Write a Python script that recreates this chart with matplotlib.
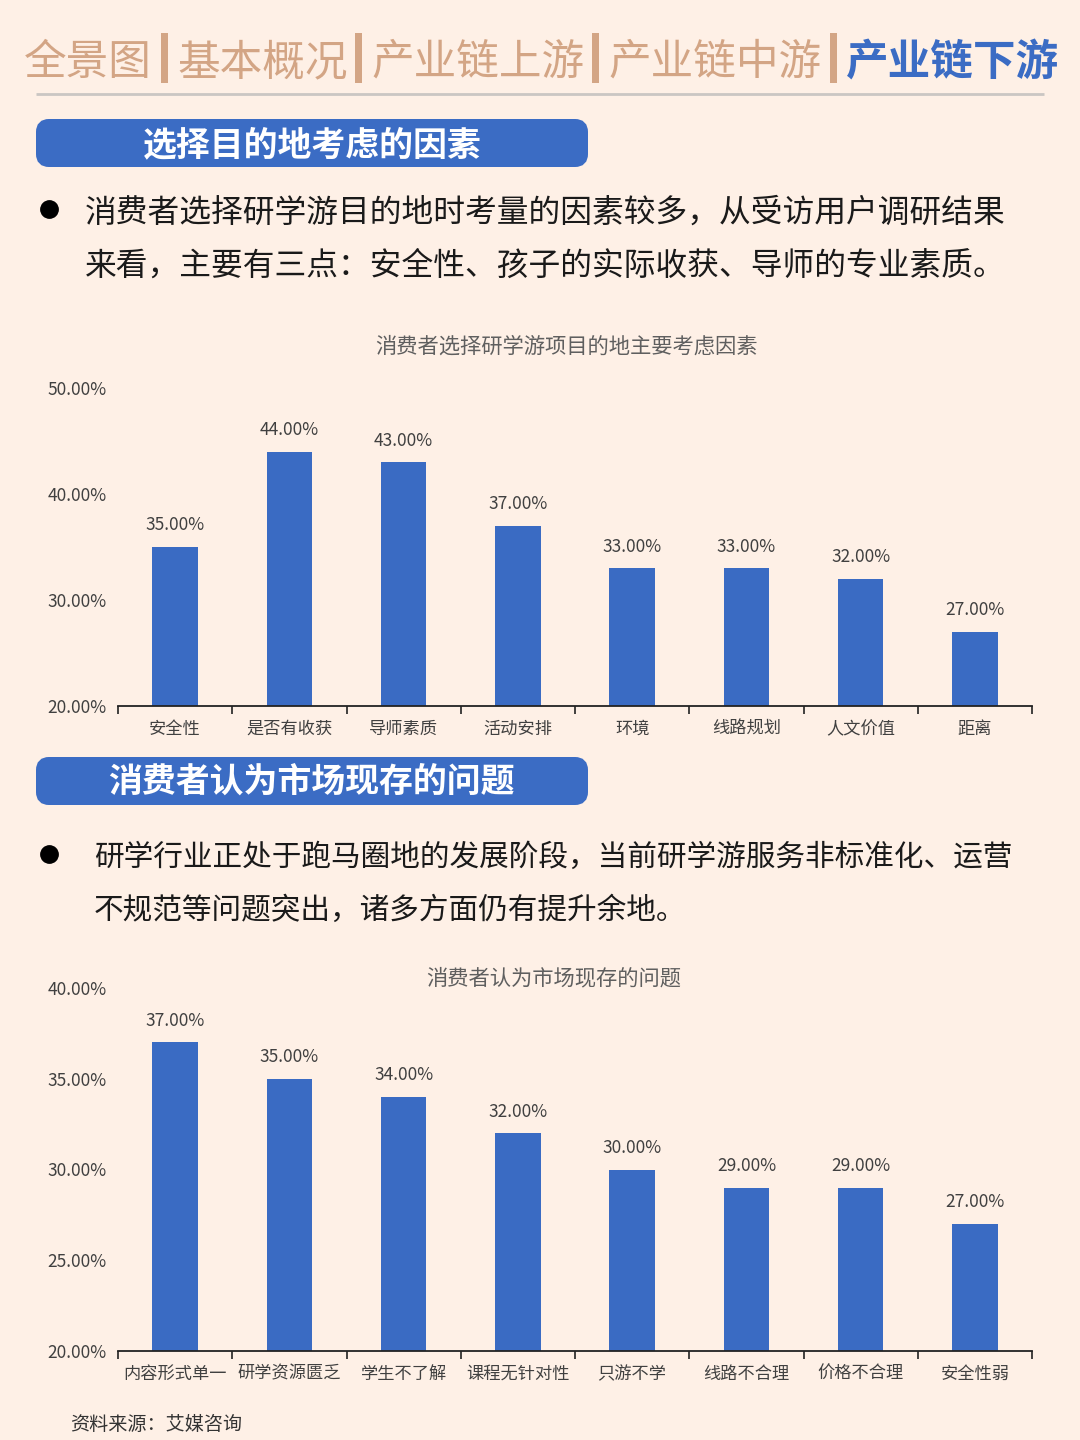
#!/usr/bin/env python3
import matplotlib; matplotlib.use("Agg")
import matplotlib.pyplot as plt
from matplotlib.patches import FancyBboxPatch, Rectangle

plt.rcParams["font.family"]=["Noto Sans CJK SC","DejaVu Sans"]

W,H=1080,1440
BG="#fef0e6"; BLUE="#3b6cc4"; TAN="#d3a585"; GREY="#404040"; BAR="#3a6bc3"

NAV=["全景图","基本概况","产业链上游","产业链中游","产业链下游"]
NAV_X=[24,177,371,608,846]
NAV_SEP=[164,358,595,833]

HEAD1="选择目的地考虑的因素"
HEAD2="消费者认为市场现存的问题"
PARA1=["消费者选择研学游目的地时考量的因素较多，从受访用户调研结果","来看，主要有三点：安全性、孩子的实际收获、导师的专业素质。"]
PARA2=["研学行业正处于跑马圈地的发展阶段，当前研学游服务非标准化、运营","不规范等问题突出，诸多方面仍有提升余地。"]

TITLE1="消费者选择研学游项目的地主要考虑因素"
CATS1=["安全性","是否有收获","导师素质","活动安排","环境","线路规划","人文价值","距离"]
VALS1=[35,44,43,37,33,33,32,27]
TICKS1=[20,30,40,50]

TITLE2="消费者认为市场现存的问题"
CATS2=["内容形式单一","研学资源匮乏","学生不了解","课程无针对性","只游不学","线路不合理","价格不合理","安全性弱"]
VALS2=[37,35,34,32,30,29,29,27]
TICKS2=[20,25,30,35,40]

SOURCE="资料来源：艾媒咨询"

fig=plt.figure(figsize=(W/100,H/100),dpi=100,facecolor=BG)
bg=fig.add_axes([0,0,1,1]); bg.set_xlim(0,W); bg.set_ylim(H,0); bg.axis("off")

# top nav
for i,(s,x) in enumerate(zip(NAV,NAV_X)):
    last=i==len(NAV)-1
    bg.text(x,63,s,fontsize=30.7,color=BLUE if last else TAN,va="center",ha="left",
            fontweight="bold" if last else "light")
for x in NAV_SEP:
    bg.add_patch(Rectangle((x-3,33),7,50,color=TAN,lw=0))
bg.plot([36,1044],[93.5,93.5],color="#cac6c3",lw=2,solid_capstyle="butt")

def header(y,txt,cx,ty,fs):
    bg.add_patch(FancyBboxPatch((41,y+5),542,38,boxstyle="round,pad=0,rounding_size=8",
                                mutation_aspect=1,fc=BLUE,ec=BLUE,lw=10*0.72))
    bg.text(cx,ty,txt,fontsize=fs,color="white",fontweight="bold",ha="center",va="center")

def para(lines,x,ys,fs,by):
    bg.plot([49],[by],"o",color="black",ms=12.5)
    for s,y in zip(lines,ys):
        bg.text(x,y,s,fontsize=fs,color="#1a1a1a",ha="left",va="center")

def chart(cats,vals,ticks,title,title_x,title_y,tfs,top,bottom):
    ax=fig.add_axes([118/W,1-bottom/H,914/W,(bottom-top)/H])
    ax.patch.set_alpha(0)
    xs=range(len(cats))
    ax.bar(xs,vals,width=0.4,color=BAR,bottom=0)
    ax.set_xlim(-0.5,len(cats)-0.5); ax.set_ylim(ticks[0],ticks[-1])
    for sp in ["top","left","right"]: ax.spines[sp].set_visible(False)
    ax.spines["bottom"].set_linewidth(1.3); ax.spines["bottom"].set_color("#222222")
    ax.set_yticks(ticks); ax.set_yticklabels([f"{t:.2f}%" for t in ticks],fontsize=12.5,color=GREY,va="center_baseline")
    ax.tick_params(axis="y",length=0,pad=8)
    ax.set_xticks(list(xs)); ax.set_xticklabels(cats,fontsize=12.4,color=GREY)
    ax.tick_params(axis="x",length=0,pad=10)
    ax.set_xticks([i-0.5 for i in range(len(cats)+1)],minor=True)
    ax.tick_params(axis="x",which="minor",length=6,width=1.2,color="#222222",direction="out")
    for x,v in zip(xs,vals):
        ax.annotate(f"{v:.2f}%",(x,v),xytext=(0,15.5),textcoords="offset points",ha="center",
                    va="center",fontsize=12.5,color=GREY)
    bg.text(title_x,title_y,title,fontsize=tfs,color="#5f5f5f",ha="center",va="center")

header(119,HEAD1,312,145,24.4)
para(PARA1,85,[213,266],22.85,209)
chart(CATS1,VALS1,TICKS1,TITLE1,566,347,15.35,388,706)

header(757,HEAD2,311,781.5,24.4)
para(PARA2,94,[857,910],21.35,854)
chart(CATS2,VALS2,TICKS2,TITLE2,553.5,978,15.35,988,1351)

bg.text(70,1425,SOURCE,fontsize=13.75,color="#333333",ha="left",va="center")

fig.savefig("out.png",dpi=100,facecolor=BG)
